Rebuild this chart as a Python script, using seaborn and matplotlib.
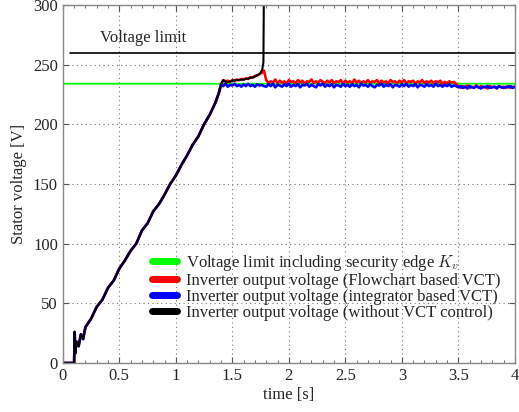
import numpy as np
import pandas as pd
import matplotlib
matplotlib.use("Agg")
import matplotlib.pyplot as plt
import seaborn as sns
from matplotlib.ticker import MultipleLocator
from matplotlib.lines import Line2D

# ---------------- data ----------------
# shared ramp (all inverter outputs coincide during start-up)
t_ramp = [0.00, 0.10, 0.105, 0.11, 0.12, 0.14, 0.16, 0.18, 0.20, 0.25, 0.30, 0.35,
          0.40, 0.45, 0.50, 0.55, 0.60, 0.65, 0.70, 0.75, 0.80, 0.85, 0.90, 0.95,
          1.00, 1.05, 1.10, 1.15, 1.20, 1.25, 1.30, 1.35, 1.38]
v_ramp = [0, 0, 26, 8, 18, 14, 24, 20, 30, 37, 47, 53,
          63, 69, 79, 86, 94, 100, 111, 117, 127, 133, 141, 150,
          157, 166, 174, 183, 190, 200, 208, 218, 226]

# black: without VCT control (after ramp)
t_black = [1.40, 1.42, 1.45, 1.50, 1.55, 1.60, 1.65, 1.70, 1.73, 1.75, 1.765, 1.775, 1.78, 1.785]
v_black = [234, 237, 235, 236.5, 237, 237.5, 238.5, 240, 241.5, 243, 246, 252, 320, 320]

# red (flowchart based VCT) after ramp, one value every 0.02 s from 1.40 s
v_red = [233, 237, 236, 236.5, 235.5, 237, 236.5, 237.5, 237, 238,
         237.5, 238.5, 238, 239.5, 239, 240.5, 241, 242, 243, 245,
         237, 234.5, 236, 235, 237.5, 234.5, 236.5, 235, 236, 234,
         237, 235.5, 236, 234.5, 237, 235, 236.5, 234, 236, 235.5,
         237.5, 234.5, 236, 235, 237, 235.5, 234.5, 236.5, 235, 237,
         234.5, 236, 235.5, 237, 234, 236.5, 235, 236, 234.5, 237.5,
         235, 236.5, 234.5, 236, 235, 237, 234.5, 236, 235.5, 237,
         234.5, 236.5, 235, 236, 234, 237, 235.5, 236, 234.5, 236.5,
         235, 237, 234.5, 236, 235.5, 236.5, 234, 236, 235, 237,
         234.5, 236, 235, 236.5, 234.5, 236, 235, 236.5, 234, 235.5,
         234.5, 236, 235, 235.5, 234,
         232, 230.5, 232, 231, 232.5, 230.5, 231.5, 231, 232.5, 230.5,
         232, 231, 231.5, 230, 232, 231, 231.5, 230.5, 232, 231,
         231.5, 230.5, 232, 230.5, 231.5, 231]

# blue (integrator based VCT) after ramp, one value every 0.02 s from 1.40 s
v_blue = [233, 232, 234, 231.5, 233, 232.5, 234, 232, 233, 231.5,
          233.5, 232, 234, 232, 233, 231.5, 233.5, 232.5, 233, 232,
          231.5, 233.5, 232, 234, 231, 233, 232.5, 231.5, 233.5, 232,
          234, 231.5, 233, 232, 233.5, 231, 233, 232.5, 234, 231.5,
          233, 232, 231, 233.5, 232.5, 234, 231.5, 233, 232, 233.5,
          231, 233, 232.5, 231.5, 234, 232, 233, 231.5, 233.5, 232,
          233, 231, 234, 232.5, 233, 231.5, 233.5, 232, 231, 233,
          232.5, 234, 231.5, 233, 232, 233.5, 231, 233, 232.5, 231.5,
          233.5, 232, 234, 231.5, 233, 232, 233.5, 231, 233, 232.5,
          231.5, 233.5, 232, 233, 231.5, 234, 232, 233, 231.5, 233,
          232, 233.5, 231.5, 232.5, 232,
          231, 232, 230.5, 231.5, 230, 232, 231, 230.5, 232, 231,
          230, 231.5, 231, 232, 230.5, 231, 231.5, 230, 232, 231,
          230.5, 231.5, 231, 232, 230.5, 231.5]

# limits
t_green = [0.0, 0.002, 4.0]
v_green = [244, 234, 234]
t_limit = [0.06, 4.0]
v_limit = [260, 260]

legend_labels = ["Voltage limit including security edge $K_v$",
                 "Inverter output voltage (Flowchart based VCT)",
                 "Inverter output voltage (integrator based VCT)",
                 "Inverter output voltage (without VCT control)"]
colors = ["#00ff00", "#ff0000", "#0000ff", "#000000"]

# ---------------- build frames ----------------
t_after_r = list(np.round(1.40 + 0.02 * np.arange(len(v_red)), 4))
t_after_b = list(np.round(1.40 + 0.02 * np.arange(len(v_blue)), 4))

df_green = pd.DataFrame({"t": t_green, "v": v_green})
df_red = pd.DataFrame({"t": t_ramp + t_after_r, "v": v_ramp + v_red})
df_blue = pd.DataFrame({"t": t_ramp + t_after_b, "v": v_ramp + v_blue})
df_black = pd.DataFrame({"t": t_ramp + t_black, "v": v_ramp + v_black})
df_limit = pd.DataFrame({"t": t_limit, "v": v_limit})

# ---------------- plot ----------------
sns.set_style("ticks")
plt.rcParams["font.family"] = ["Liberation Serif", "DejaVu Serif"]
plt.rcParams["mathtext.fontset"] = "cm"

fig = plt.figure(figsize=(5.19, 4.12), dpi=100)
ax = fig.add_axes([0.121, 0.119, 0.871, 0.869])

kw = dict(x="t", y="v", estimator=None, sort=False, ax=ax)
sns.lineplot(data=df_limit, color="black", lw=1.2, **kw)
sns.lineplot(data=df_green, color=colors[0], lw=1.3, **kw)
sns.lineplot(data=df_red, color=colors[1], lw=1.9, **kw)
sns.lineplot(data=df_blue, color=colors[2], lw=1.9, **kw)
sns.lineplot(data=df_black, color=colors[3], lw=1.5, **kw)

ax.text(0.33, 266, "Voltage limit", fontsize=12, ha="left", va="bottom")

ax.set_xlim(0, 4)
ax.set_ylim(0, 300)
ax.yaxis.set_major_locator(MultipleLocator(50))
ax.xaxis.set_minor_locator(MultipleLocator(0.1))
ax.set_xticks([0, 0.5, 1, 1.5, 2, 2.5, 3, 3.5, 4])
ax.set_xticklabels(["0", "0.5", "1", "1.5", "2", "2.5", "3", "3.5", "4"])
ax.tick_params(axis="both", which="both", direction="in", top=True, right=True,
               labelsize=12, color="#555555")
ax.tick_params(which="major", length=4)
ax.tick_params(which="minor", length=2)
ax.grid(True, which="major", linestyle=(0, (1, 3)), color="#777777", lw=0.8)
for s in ax.spines.values():
    s.set_color("#888888")
    s.set_linewidth(1.0)

ax.set_xlabel("time [s]", fontsize=12, labelpad=2)
ax.set_ylabel("Stator voltage [V]", fontsize=12, labelpad=4)

handles = [Line2D([0], [0], color=c, lw=5) for c in colors]
ax.legend(handles, legend_labels, loc="lower right", bbox_to_anchor=(0.99, 0.09),
          frameon=False, fontsize=12, handlelength=1.5, handletextpad=0.5,
          labelspacing=0.0, borderaxespad=0.2)

fig.savefig("out.png", dpi=100)
